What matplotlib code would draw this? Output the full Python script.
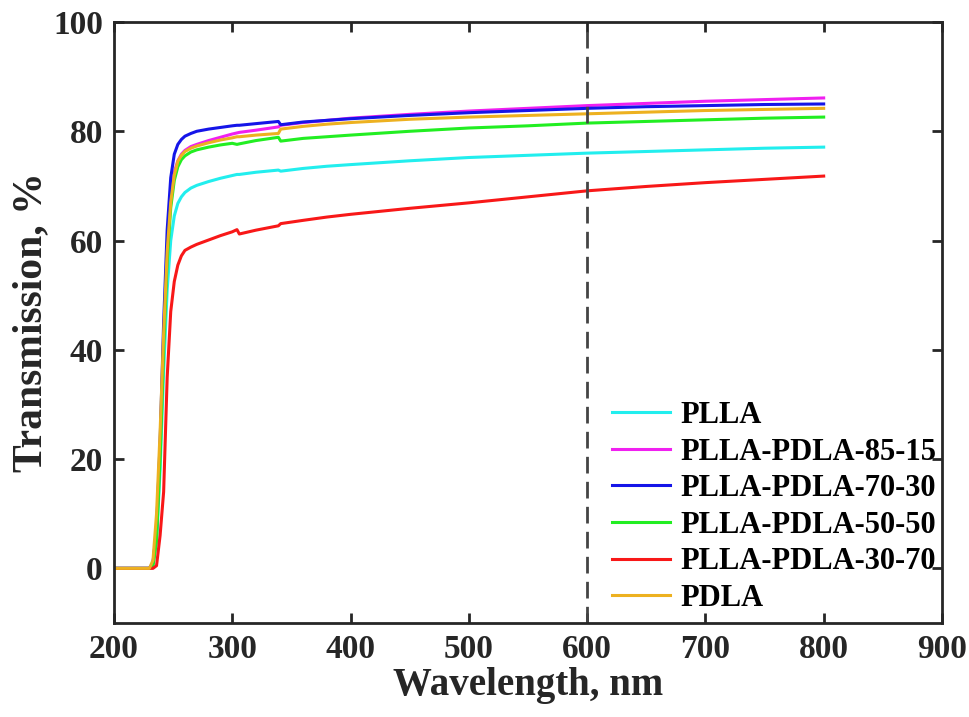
import matplotlib
matplotlib.use("Agg")
import matplotlib.pyplot as plt

# wavelength grid (nm) shared by every trace
wl = [200, 230, 233, 236, 239, 242, 245, 248, 251, 254, 257, 260, 265, 270, 280, 290,
      300, 304, 306, 320, 339, 341, 360, 380, 400, 450, 500, 550, 600, 650, 700, 750, 800]

plla = [0, 0, 0.5, 5, 18, 36, 51, 60, 64.5, 66.8, 68, 68.8, 69.6, 70.1, 70.8, 71.4,
        71.9, 72.1, 72.1, 72.5, 72.9, 72.7, 73.2, 73.6, 73.9, 74.6, 75.2, 75.6, 76.0, 76.3, 76.6, 76.9, 77.1]
p85_15 = [0, 0, 1, 7, 22, 42, 58, 68, 72.5, 74.6, 75.8, 76.5, 77.2, 77.6, 78.3, 78.9,
          79.5, 79.7, 79.8, 80.2, 80.8, 81.1, 81.6, 82.0, 82.4, 83.1, 83.7, 84.2, 84.7, 85.1, 85.5, 85.8, 86.1]
p70_30 = [0, 0, 1, 7, 23, 45, 62, 71.5, 75.8, 77.6, 78.5, 79.1, 79.6, 80.0, 80.4, 80.7,
          81.0, 81.1, 81.1, 81.4, 81.8, 81.2, 81.7, 82.0, 82.3, 82.9, 83.4, 83.8, 84.2, 84.5, 84.7, 84.9, 85.0]
p50_50 = [0, 0, 0.5, 5, 20, 40, 56, 66, 71, 73.5, 74.8, 75.5, 76.2, 76.6, 77.1, 77.5,
          77.8, 77.6, 77.7, 78.3, 78.9, 78.2, 78.7, 79.0, 79.3, 80.0, 80.6, 81.0, 81.5, 81.8, 82.1, 82.4, 82.6]
p30_70 = [0, 0, 0, 0.5, 6, 14, 35, 47, 52.5, 55.5, 57.2, 58.2, 58.8, 59.3, 60.1, 60.9,
          61.6, 62.0, 61.2, 61.9, 62.7, 63.1, 63.7, 64.3, 64.8, 65.9, 66.9, 68.0, 69.1, 69.9, 70.6, 71.2, 71.8]
pdla = [0, 0, 1.5, 10, 25, 43, 58, 67, 72, 74.5, 75.6, 76.3, 76.9, 77.3, 77.9, 78.4,
        78.8, 79.0, 79.0, 79.3, 79.6, 80.4, 80.9, 81.3, 81.6, 82.2, 82.6, 82.9, 83.2, 83.5, 83.8, 84.0, 84.2]

labels = ["PLLA", "PLLA-PDLA-85-15", "PLLA-PDLA-70-30", "PLLA-PDLA-50-50", "PLLA-PDLA-30-70", "PDLA"]
colors = ["#22EEEE", "#F020F0", "#1515E8", "#22EE22", "#F81818", "#EDB120"]

plt.rcParams["font.family"] = ["Liberation Serif", "DejaVu Serif"]
plt.rcParams["font.weight"] = "bold"

fig = plt.figure(figsize=(9.69, 7.17), dpi=100)
ax = fig.add_axes([0.1176, 0.1311, 0.8545, 0.8382])

for y, lab, c in zip([plla, p85_15, p70_30, p50_50, p30_70, pdla], labels, colors):
    ax.plot(wl, y, color=c, lw=2.2, label=lab)

# reference line at 600 nm
ax.axvline(600, color="#444444", lw=2, linestyle=(0, (6, 3)))

ax.set_xlim(200, 900)
ax.set_ylim(-10, 100)
ax.set_xticks(range(200, 901, 100))
ax.set_yticks(range(0, 101, 20))
ax.tick_params(direction="in", length=7, width=2, labelsize=24, colors="#262626",
               top=True, right=True, pad=8)
for s in ax.spines.values():
    s.set_linewidth(2)
    s.set_color("#262626")

ax.set_xlabel("Wavelength, nm", fontsize=28, fontweight="bold", color="#262626", labelpad=1)
ax.set_ylabel("Transmission, %", fontsize=30, fontweight="bold", color="#262626", labelpad=2)

ax.legend(loc="lower right", bbox_to_anchor=(1.015, -0.014), frameon=False, fontsize=22,
          handlelength=1.9, handletextpad=0.33, labelspacing=0.25, borderaxespad=0.2)

fig.savefig("out.png", dpi=100)
